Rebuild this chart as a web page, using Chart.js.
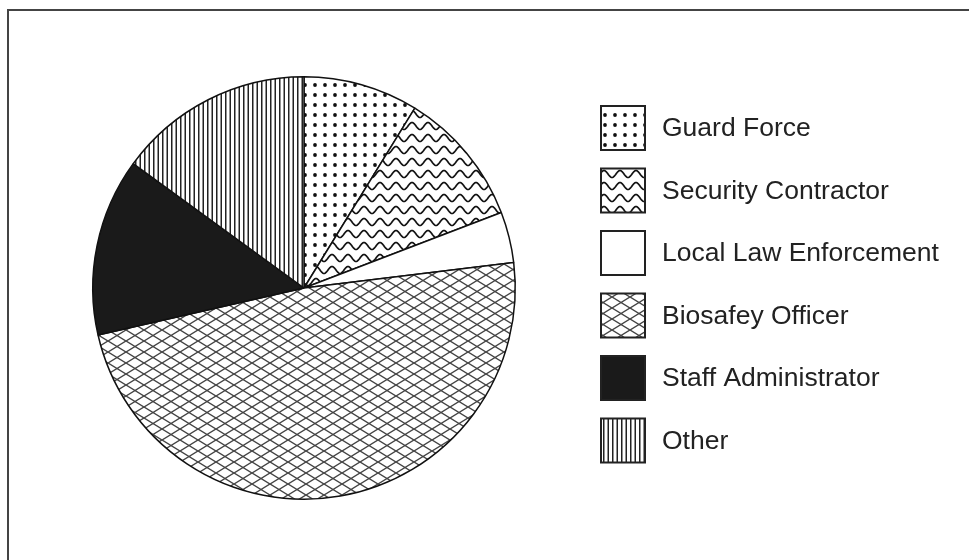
<!DOCTYPE html>
<html>
<head>
<meta charset="utf-8">
<script src="https://cdn.jsdelivr.net/npm/chart.js@4"></script>
<style>
html, body { margin: 0; padding: 0; background: #fff; }
#wrap { position: relative; width: 969px; height: 560px; overflow: hidden; }
#frame { position: absolute; left: 7px; top: 9px; width: 1000px; height: 600px; border-top: 2px solid #444; border-left: 2px solid #444; }
canvas { position: absolute; left: 0; top: 0; }
</style>
</head>
<body>
<div id="wrap">
  <div id="frame"></div>
  <canvas id="grafico-pizza" width="969" height="560"></canvas>
</div>
<script>
const categorias = ['Guard Force', 'Security Contractor', 'Local Law Enforcement', 'Biosafey Officer', 'Staff Administrator', 'Other'];
const valores = [8.8, 10.4, 3.9, 48.4, 13.6, 15.0];

// tiles para os padrões de preenchimento
function tile(w, h, desenha) {
    const c = document.createElement('canvas');
    c.width = w;
    c.height = h;
    const g = c.getContext('2d');
    g.fillStyle = '#fff';
    g.fillRect(0, 0, w, h);
    desenha(g, w, h);
    return c.getContext('2d').createPattern(c, 'repeat');
}

const pontos = tile(10, 10, (g) => {
    g.fillStyle = '#111';
    g.beginPath();
    g.arc(5, 5, 1.9, 0, Math.PI * 2);
    g.fill();
});

const ondas = tile(16, 12, (g, w) => {
    g.strokeStyle = '#111';
    g.lineWidth = 1.7;
    g.beginPath();
    for (let x = -1; x <= w + 1; x += 0.5) {
        const y = 6 + 3.5 * Math.sin(2 * Math.PI * x / w);
        if (x === -1) g.moveTo(x, y); else g.lineTo(x, y);
    }
    g.stroke();
});

const branco = '#fff';

const cruzado = tile(18, 11, (g, w, h) => {
    g.strokeStyle = '#444';
    g.lineWidth = 1.4;
    for (const dx of [-w, 0, w]) {
        g.beginPath();
        g.moveTo(dx, 0); g.lineTo(dx + w, h);
        g.moveTo(dx, h); g.lineTo(dx + w, 0);
        g.stroke();
    }
});

const preto = '#1a1a1a';

const listras = tile(9, 10, (g, w, h) => {
    g.fillStyle = '#222';
    g.fillRect(0, 0, 1.5, h);
    g.fillRect(4.5, 0, 1.5, h);
});

const cores = [pontos, ondas, branco, cruzado, preto, listras];

// legenda desenhada à mão, caixas grandes como na figura
const legenda = {
    id: 'legenda',
    afterDraw(chart) {
        const ctx = chart.ctx;
        const ds = chart.data.datasets[0];
        ctx.save();
        chart.data.labels.forEach((nome, i) => {
            const x = 601;
            const y = 106 + i * 62.5;
            ctx.fillStyle = ds.backgroundColor[i];
            ctx.fillRect(x, y, 44, 44);
            ctx.lineWidth = 2;
            ctx.strokeStyle = '#222';
            ctx.strokeRect(x, y, 44, 44);
            ctx.fillStyle = '#222';
            ctx.font = '26.5px "Liberation Sans", Arial, sans-serif';
            ctx.textBaseline = 'middle';
            ctx.fillText(nome, 662, y + 23);
        });
        ctx.restore();
    }
};

const ctx = document.getElementById('grafico-pizza');
new Chart(ctx, {
    type: 'pie',
    data: {
        labels: categorias,
        datasets: [{
            data: valores,
            backgroundColor: cores,
            borderColor: '#111',
            borderWidth: 1.5
        }]
    },
    options: {
        responsive: false,
        animation: false,
        layout: {
            padding: { top: 76, bottom: 60, left: 92, right: 453 }
        },
        plugins: {
            legend: { display: false },
            tooltip: { enabled: false }
        }
    },
    plugins: [legenda]
});
</script>
</body>
</html>
